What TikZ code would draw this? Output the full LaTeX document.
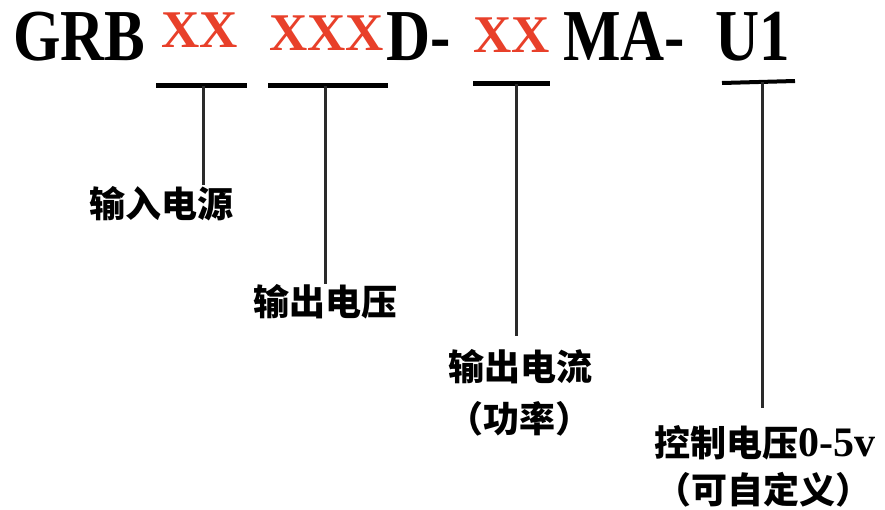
\documentclass[tikz,border=0pt]{standalone}
\usepackage{fontspec}
\setmainfont{Liberation Serif}
\newfontfamily\cjk{Noto Sans CJK SC}
\definecolor{redx}{HTML}{E8402A}
\definecolor{linegray}{HTML}{2A2A2A}
\tikzset{
  blk/.style={inner sep=0pt, anchor=base west, font=\fontsize{61}{61}\selectfont\bfseries},
  redt/.style={inner sep=0pt, anchor=base west, text=redx, font=\fontsize{53}{53}\selectfont\bfseries},
  lab/.style={inner sep=0pt, anchor=base, font=\cjk\bfseries\fontsize{36}{36}\selectfont},
  uline/.style={line width=5pt, black},
  vline/.style={line width=3pt, linegray},
}
\begin{document}
\begin{tikzpicture}[x=1pt,y=-1pt]
\useasboundingbox (0,0) rectangle (885,509);
% header
\node[blk] (grb) at (13,60) {\scalebox{1}[1.2]{GRB}};
\node[redt] (x1) at (161,47) {XX};
\node[redt] (x2) at (269,50) {XXX};
\node[blk] (d) at (386,60) {\scalebox{1}[1.2]{D-}};
\node[redt] (x3) at (473,52) {XX};
\node[blk] (ma) at (563,60) {\scalebox{1}[1.2]{MA-}};
\node[blk] (u1) at (715,60) {\scalebox{1}[1.2]{U1}};
% underlines
\coordinate (a1) at (156,85); \coordinate (b1) at (247,85);
\coordinate (a2) at (268,85); \coordinate (b2) at (388,85);
\coordinate (a3) at (473,83); \coordinate (b3) at (550,83);
\coordinate (a4) at (722,83); \coordinate (b4) at (795,81);
\draw[uline] (a1) -- (b1);
\draw[uline] (a2) -- (b2);
\draw[uline] (a3) -- (b3);
\draw[uline, line width=4pt] (a4) -- (b4);
% labels
\node[lab] (l1) at (161,217) {输入电源};
\node[lab] (l2) at (325,315) {输出电压};
\node[lab] (l3) at (520,380) {输出电流};
\node[lab] (l3b) at (519,432) {（功率）};
\node[lab] (l4) at (765,456) {控制电压{\rmfamily\bfseries\fontsize{42}{42}\selectfont 0-5v}};
\node[lab] (l4b) at (763,503) {（可自定义）};
% connectors
\coordinate (t1) at (203,86); \coordinate (e1) at (203,185);
\coordinate (t2) at (325,86); \coordinate (e2) at (325,284);
\coordinate (t3) at (516,84); \coordinate (e3) at (516,336);
\coordinate (t4) at (762,82); \coordinate (e4) at (762,408);
\draw[vline] (t1) -- (e1);
\draw[vline] (t2) -- (e2);
\draw[vline] (t3) -- (e3);
\draw[vline] (t4) -- (e4);
\end{tikzpicture}
\end{document}
